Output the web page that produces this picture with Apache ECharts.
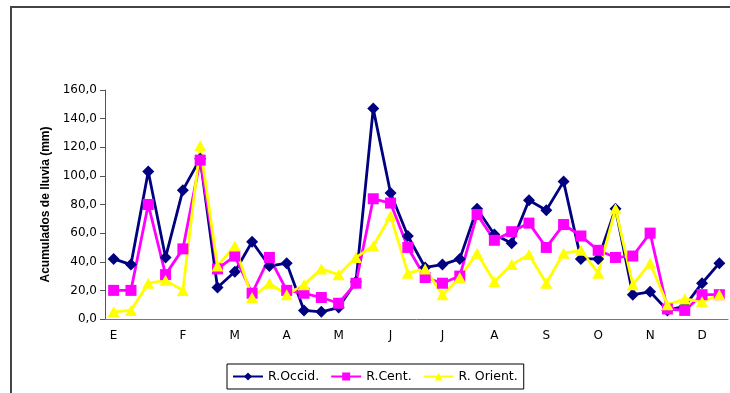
<!DOCTYPE html>
<html>
<head>
<meta charset="utf-8">
<script src="https://cdn.jsdelivr.net/npm/echarts@6/dist/echarts.min.js"></script>
<style>
html,body{margin:0;padding:0;background:#fff;}
#c{width:730px;height:393px;}
</style>
</head>
<body>
<div id="c"></div>
<script>
// 36 ten-day periods (3 per month)
var monthLabels = ['E','','','','F','','','M','','','A','','','M','','','J','','','J','','','A','','','S','','','O','','','N','','','D',''];
var occid  = [42,38,103,43,90,112,22,33,54,37,39,6,5,8,26,147,88,58,36,38,42,77,59,53,83,76,96,42,42,77,17,19,6,9,25,39];
var cent   = [20,20,80,31,49,111,35,44,18,43,20,18,15,11,25,84,81,50,29,25,30,73,55,61,67,50,66,58,48,43,44,60,7,6,17,17];
var orient = [5,6,25,27,20,121,37,51,15,25,17,24,35,31,43,51,72,32,35,17,29,46,26,38,45,25,46,48,32,77,24,39,10,14,12,17];
var seriesNames = ['R.Occid.','R.Cent.','R. Orient.'];
var yTicks = {min:0, max:160, interval:20};

var chart = echarts.init(document.getElementById('c'), null, {renderer:'canvas'});
chart.setOption({
  animation:false,
  backgroundColor:'#fff',
  graphic:[{
    type:'polyline',
    shape:{points:[[11,400],[11,7],[740,7]]},
    style:{stroke:'#444', lineWidth:2, fill:null}
  }],
  grid:{left:105, right:2, top:90, bottom:74, containLabel:false},
  legend:{
    left:227, top:364,
    padding:[6,6,6,5],
    borderColor:'#000', borderWidth:1,
    itemWidth:30, itemHeight:10, itemGap:11,
    textStyle:{fontFamily:'DejaVu Sans', fontSize:12.5, color:'#000'},
    data:seriesNames
  },
  xAxis:{
    type:'category',
    data:monthLabels,
    boundaryGap:true,
    axisLine:{lineStyle:{color:'#777', width:1}},
    axisTick:{interval:0, length:5, lineStyle:{color:'#777'}},
    axisLabel:{interval:0, margin:11, fontFamily:'DejaVu Sans', fontSize:12, color:'#000'}
  },
  yAxis:{
    type:'value',
    min:yTicks.min, max:yTicks.max, interval:yTicks.interval,
    name:'Acumulados de lluvia (mm)',
    nameLocation:'middle',
    nameGap:53,
    nameTextStyle:{fontFamily:'Liberation Sans', fontWeight:'bold', fontSize:12, color:'#000'},
    axisLine:{show:true, lineStyle:{color:'#555', width:1}},
    axisTick:{show:true, length:5, lineStyle:{color:'#555'}},
    splitLine:{show:false},
    axisLabel:{margin:8, fontFamily:'DejaVu Sans', fontSize:12, color:'#000',
      formatter:function(v){return v.toFixed(1).replace('.',',');}}
  },
  series:[
    {name:seriesNames[0], type:'line', data:occid, symbol:'diamond', symbolSize:12,
     itemStyle:{color:'#000080'}, lineStyle:{color:'#000080', width:2.8}},
    {name:seriesNames[1], type:'line', data:cent, symbol:'rect', symbolSize:11,
     itemStyle:{color:'#FF00FF'}, lineStyle:{color:'#FF00FF', width:2.8}},
    {name:seriesNames[2], type:'line', data:orient, symbol:'triangle', symbolSize:[12,11],
     itemStyle:{color:'#FFFF00'}, lineStyle:{color:'#FFFF00', width:2.8}}
  ]
});
</script>
</body>
</html>
